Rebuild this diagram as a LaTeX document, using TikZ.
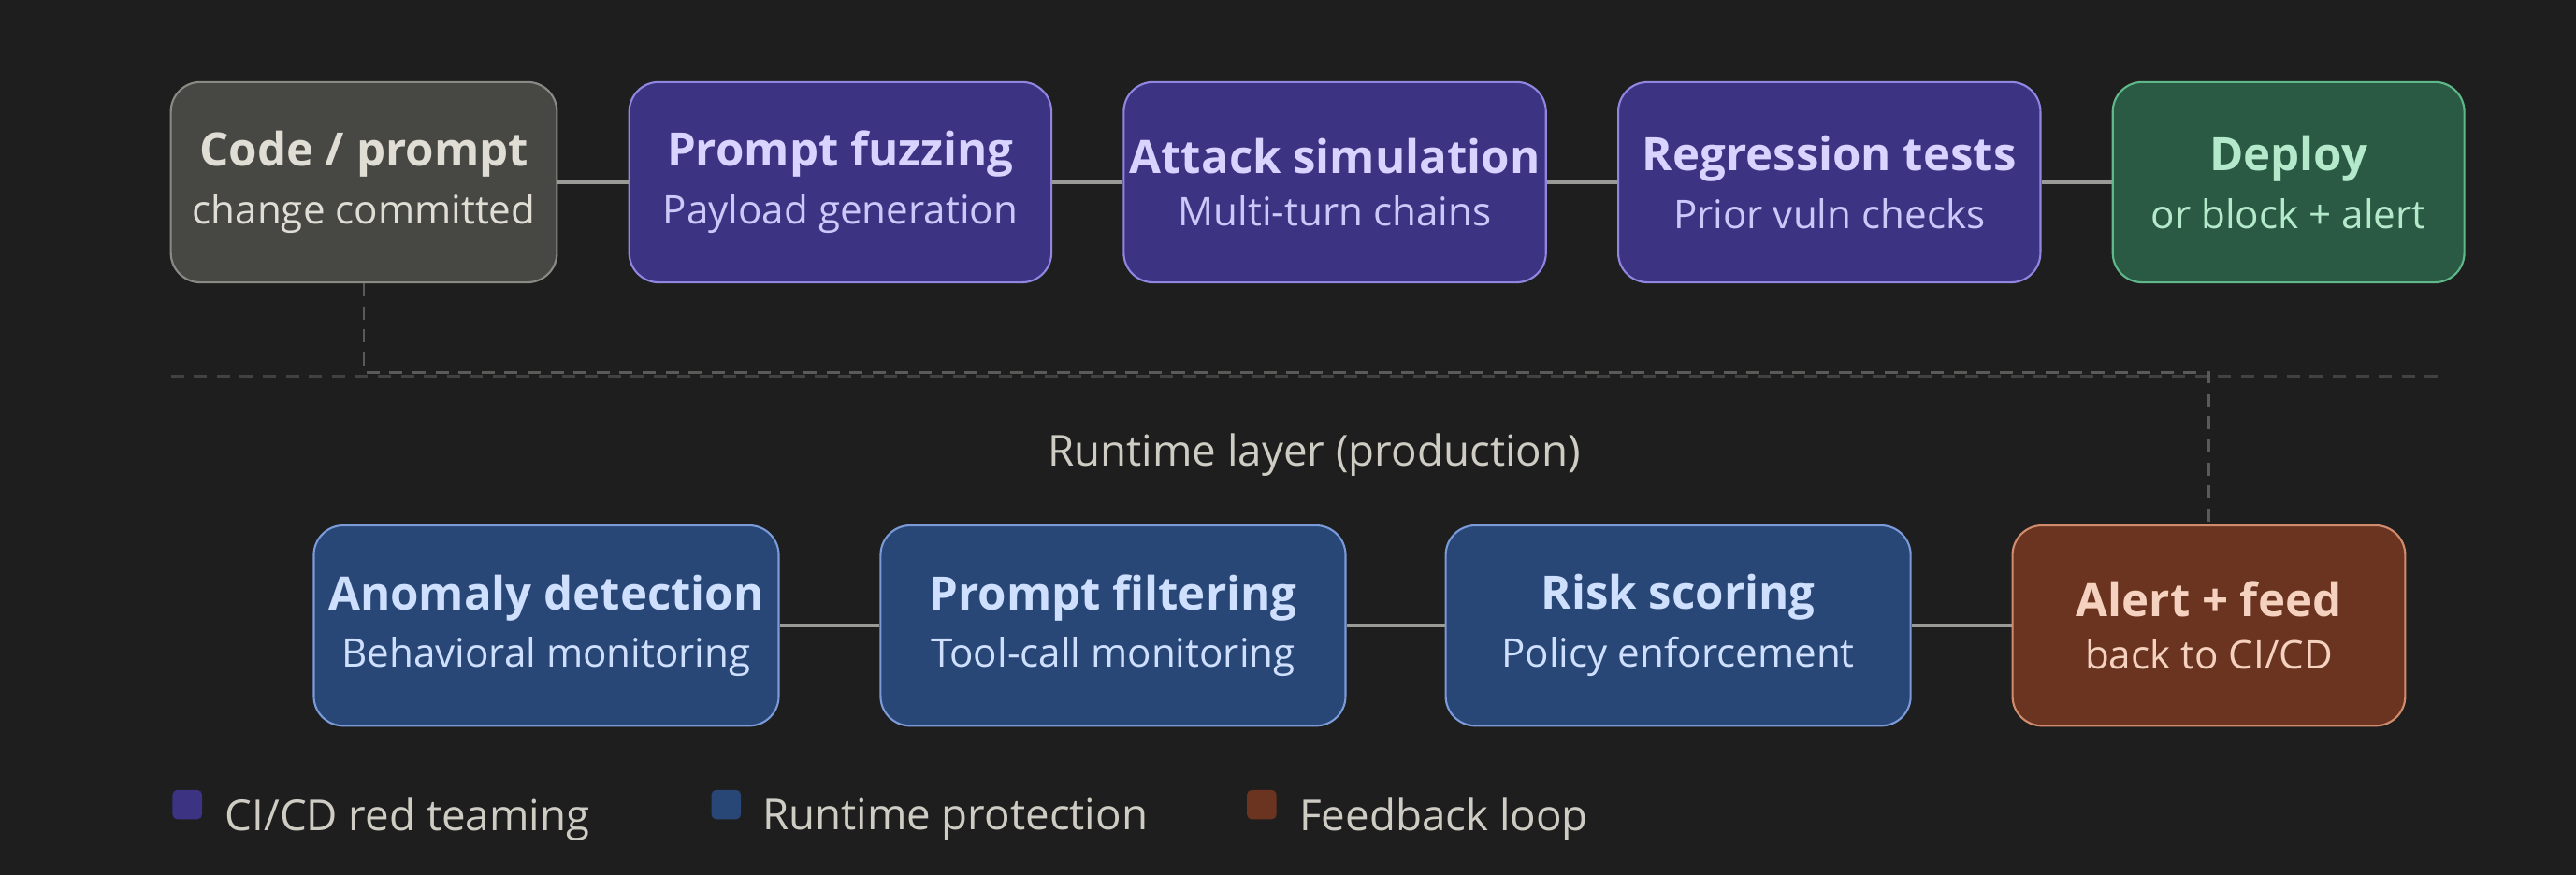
\documentclass[tikz,border=0pt]{standalone}
\usepackage{fontspec}
\setmainfont{Open Sans}
\definecolor{bg}{HTML}{1E1E1E}
\definecolor{grayfill}{HTML}{474744}\definecolor{graydraw}{HTML}{8A8A85}\definecolor{graytext}{HTML}{E0DDD5}
\definecolor{purpfill}{HTML}{3C3483}\definecolor{purpdraw}{HTML}{8F86E0}\definecolor{purptext}{HTML}{D8D4FF}
\definecolor{greenfill}{HTML}{2A5A44}\definecolor{greendraw}{HTML}{5FB88A}\definecolor{greentext}{HTML}{B4EACB}
\definecolor{bluefill}{HTML}{284676}\definecolor{bluedraw}{HTML}{7A9AD8}\definecolor{bluetext}{HTML}{CFE0FF}
\definecolor{orfill}{HTML}{6A3420}\definecolor{ordraw}{HTML}{D08C6C}\definecolor{ortext}{HTML}{F5D2C0}
\definecolor{linkcol}{HTML}{9A9A96}\definecolor{dashcol}{HTML}{5A5A58}\definecolor{labcol}{HTML}{CFCCC4}
\newcommand\stagehd[1]{{\fontsize{14}{17}\selectfont\bfseries #1}}
\newcommand\stagesub[1]{{\fontsize{12}{15}\selectfont #1}}
\tikzset{
  stage/.style={draw, rounded corners=9pt, line width=0.6pt, minimum height=61pt, align=center, inner sep=0pt},
  ci/.style={stage, fill=purpfill, draw=purpdraw, text=purptext, minimum width=128.5pt},
  rt/.style={stage, fill=bluefill, draw=bluedraw, text=bluetext, minimum width=141.5pt},
  link/.style={draw=linkcol, line width=1.2pt},
  loop/.style={draw=dashcol, line width=0.8pt, dash pattern=on 4pt off 3pt},
  key/.style={rounded corners=1.5pt, minimum size=9pt, inner sep=0pt},
  keytext/.style={text=labcol, font=\fontsize{13}{15}\selectfont, anchor=west}
}
\begin{document}
\begin{tikzpicture}[x=0.5pt,y=-0.5pt]
  \fill[bg] (0,0) rectangle (1568,533);
  % ci/cd row
  \node[stage, fill=grayfill, draw=graydraw, text=graytext, minimum width=117.5pt] (code) at (221.5,111)
    {\stagehd{Code / prompt}\\[4pt]\stagesub{change committed}};
  \node[ci] (fuzz) at (511.5,111)
    {\stagehd{Prompt fuzzing}\\[4pt]\stagesub{\color{purptext!85!purpdraw}Payload generation}};
  \node[ci] (attack) at (812.5,111)
    {\stagehd{Attack simulation}\\[4pt]\stagesub{\color{purptext!85!purpdraw}Multi-turn chains}};
  \node[ci] (regress) at (1113.5,111)
    {\stagehd{Regression tests}\\[4pt]\stagesub{\color{purptext!85!purpdraw}Prior vuln checks}};
  \node[stage, fill=greenfill, draw=greendraw, text=greentext, minimum width=107pt] (deploy) at (1393,111)
    {\stagehd{Deploy}\\[4pt]\stagesub{or block + alert}};
  \draw[link] (code) -- (fuzz);
  \draw[link] (fuzz) -- (attack);
  \draw[link] (attack) -- (regress);
  \draw[link] (regress) -- (deploy);
  % runtime row
  \node[rt] (anom) at (332.5,381)
    {\stagehd{Anomaly detection}\\[4pt]\stagesub{Behavioral monitoring}};
  \node[rt] (filter) at (677.5,381)
    {\stagehd{Prompt filtering}\\[4pt]\stagesub{Tool-call monitoring}};
  \node[rt] (risk) at (1021.5,381)
    {\stagehd{Risk scoring}\\[4pt]\stagesub{Policy enforcement}};
  \node[stage, fill=orfill, draw=ordraw, text=ortext, minimum width=119.5pt] (alert) at (1344.5,381)
    {\stagehd{Alert + feed}\\[4pt]\stagesub{back to CI/CD}};
  \draw[link] (anom) -- (filter);
  \draw[link] (filter) -- (risk);
  \draw[link] (risk) -- (alert);
  % layer divider and feedback loop
  \draw[loop, draw=dashcol!60!bg] (104,229) -- (1490,229);
  \coordinate (bendA) at (221.5,227);
  \coordinate (bendB) at (1344.5,227);
  \draw[loop] (code.south) -- (bendA) -- (bendB) -- (alert.north);
  \node[text=labcol, font=\fontsize{13}{15}\selectfont] (layer) at (800,277) {Runtime layer (production)};
  % legend
  \node[key, fill=purpfill] (k1) at (114,490) {};
  \node[keytext] (t1) at (130,499) {CI/CD red teaming};
  \node[key, fill=bluefill] (k2) at (442,490) {};
  \node[keytext] (t2) at (457,499) {Runtime protection};
  \node[key, fill=orfill] (k3) at (768,490) {};
  \node[keytext] (t3) at (784,499) {Feedback loop};
\end{tikzpicture}
\end{document}
